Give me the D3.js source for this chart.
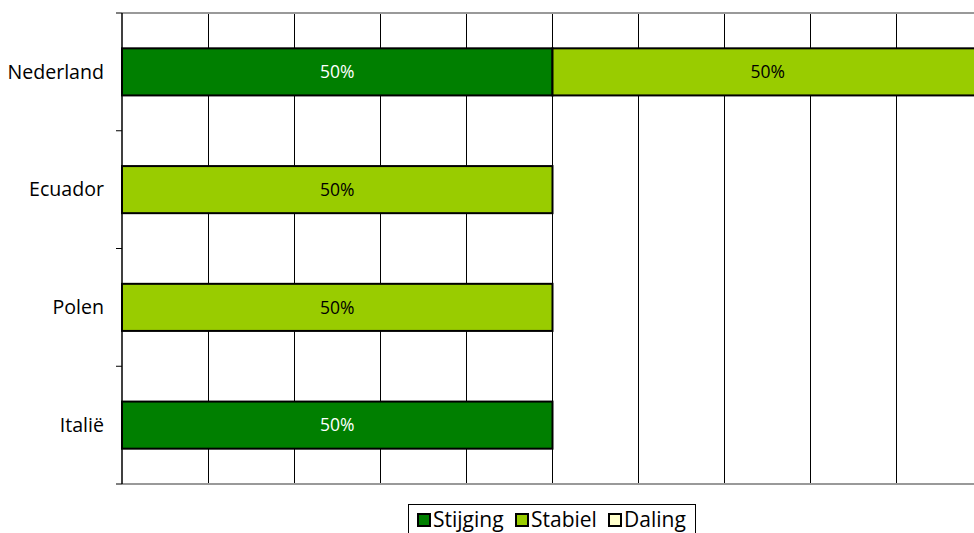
<!DOCTYPE html>
<html><head><meta charset="utf-8">
<script src="https://cdn.jsdelivr.net/npm/d3@7"></script>
<style>body{margin:0;background:#fff}svg{display:block}text{font-family:"Open Sans",sans-serif}</style>
</head><body><svg id="c" width="974" height="533"></svg>
<script>
const categories = ["Nederland","Ecuador","Polen","Italië"];
const seriesNames = ["Stijging","Stabiel","Daling"];
const stijging = [50, 0, 0, 50];
const stabiel = [50, 50, 50, 0];
const daling = [0, 0, 0, 0];
const colors = ["#007F00","#99CC00","#FFFFCC"];
const xTicks = [0,10,20,30,40,50,60,70,80,90,100];

const svg = d3.select("#c");
const x = d3.scaleLinear().domain([0,100]).range([122,983]);
const y = d3.scaleBand().domain(categories).range([13,484]).paddingInner(0.6).paddingOuter(0.3);
const yb = d3.scaleBand().domain(categories).range([13,484]);

// gridlines
svg.append("g").selectAll("line").data(xTicks.slice(1)).join("line")
  .attr("x1",d=>x(d)).attr("x2",d=>x(d)).attr("y1",13).attr("y2",484)
  .attr("stroke","#000").attr("stroke-width",1).attr("shape-rendering","crispEdges");
// top/bottom grey borders
svg.append("line").attr("x1",122).attr("x2",974).attr("y1",13).attr("y2",13).attr("stroke","#999").attr("stroke-width",2);
svg.append("line").attr("x1",122).attr("x2",974).attr("y1",484).attr("y2",484).attr("stroke","#999").attr("stroke-width",2);

const data = categories.map((c,i)=>({cat:c, Stijging:stijging[i], Stabiel:stabiel[i], Daling:daling[i]}));
const stack = d3.stack().keys(seriesNames)(data);
const g = svg.append("g");
stack.forEach((s,si)=>{
  s.forEach(d=>{
    const w = d[1]-d[0];
    if(w<=0) return;
    const yy = y(d.data.cat);
    g.append("rect").attr("x",x(d[0])).attr("y",yy).attr("width",x(d[1])-x(d[0])).attr("height",y.bandwidth())
      .attr("fill",colors[si]).attr("stroke","#000").attr("stroke-width",2);
    g.append("text").attr("x",(x(d[0])+x(d[1]))/2).attr("y",yy+y.bandwidth()/2).attr("dy","0.35em")
      .attr("text-anchor","middle").attr("font-size",17.5).attr("fill",si===0?"#fff":"#000").text(w+"%");
  });
});

// y axis
const ax = svg.append("g");
ax.append("line").attr("x1",122).attr("x2",122).attr("y1",13).attr("y2",484).attr("stroke","#000").attr("stroke-width",1.5);
const tickYs = categories.map(c=>yb(c)).concat([484]);
ax.selectAll("line.t").data(tickYs).join("line").attr("class","t")
  .attr("x1",116).attr("x2",122).attr("y1",d=>d).attr("y2",d=>d).attr("stroke","#000");
ax.selectAll("text").data(categories).join("text")
  .attr("x",104).attr("y",d=>yb(d)+yb.bandwidth()/2).attr("dy","0.35em")
  .attr("text-anchor","end").attr("font-size",19.6).attr("fill","#000").text(d=>d);

// legend
const lg = svg.append("g");
lg.append("rect").attr("x",408.5).attr("y",504.5).attr("width",287).attr("height",40).attr("fill","#fff").attr("stroke","#000");
const lx = [417, 515, 608];
seriesNames.forEach((n,i)=>{
  lg.append("rect").attr("x",lx[i]+1).attr("y",514).attr("width",12).attr("height",12).attr("fill",colors[i]).attr("stroke","#000").attr("stroke-width",2);
  lg.append("text").attr("x",lx[i]+16).attr("y",527).attr("font-size",21).attr("fill","#000").text(n);
});
</script></body></html>
